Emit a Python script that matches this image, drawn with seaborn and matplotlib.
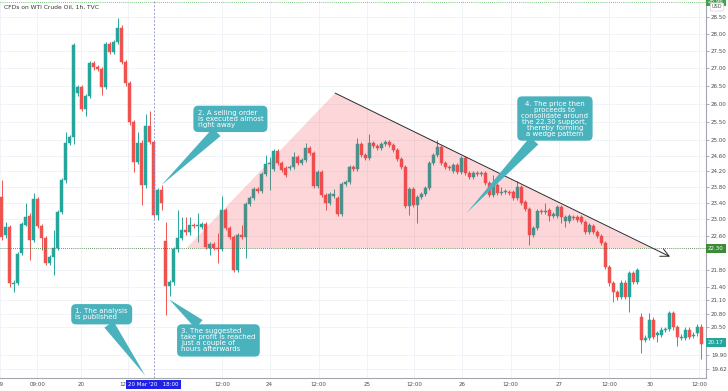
import numpy as np
import pandas as pd
import matplotlib.pyplot as plt
import matplotlib.transforms as mtransforms
from matplotlib.patches import Polygon
from matplotlib.ticker import NullLocator
import seaborn as sns

# hourly WTI candles
opens = [23.54, 22.62, 22.81, 21.47, 21.50, 22.19, 22.86, 23.08, 22.50, 23.49,
         22.83, 22.55, 21.96, 22.10, 22.31, 23.17, 23.97, 24.93, 25.09, 26.29,
         26.46, 25.85, 26.21, 27.14, 27.03, 26.97, 26.46, 27.70, 27.46, 27.76,
         28.17, 27.17, 26.57, 25.49, 24.43, 24.93, 23.84, 25.39, 24.96, 23.10,
         23.72, 22.47, 21.43, 21.52, 22.28, 22.55, 22.74, 22.69, 22.86, 22.83,
         22.81, 22.88, 22.31, 22.40, 22.31, 22.29, 23.22, 22.79, 22.57, 21.79,
         22.62, 22.57, 23.37, 23.52, 23.74, 23.69, 24.13, 24.38, 24.25, 24.72,
         24.40, 24.28, 24.28, 24.30, 24.56, 24.40, 24.48, 24.80, 24.67, 23.82,
         24.18, 23.59, 23.40, 23.57, 23.52, 23.12, 23.87, 23.92, 24.30, 24.25,
         24.91, 24.62, 24.54, 24.93, 24.86, 24.80, 24.91, 24.96, 24.88, 24.75,
         24.51, 24.30, 23.32, 23.74, 23.35, 23.54, 23.62, 23.77, 24.40, 24.62,
         24.83, 24.40, 24.30, 24.20, 24.35, 24.18, 24.54, 24.15, 24.05, 24.15,
         24.13, 24.15, 23.89, 23.59, 23.84, 23.64, 23.67, 23.67, 23.67, 23.52,
         23.79, 23.42, 23.25, 22.62, 22.79, 23.20, 23.17, 23.22, 23.08, 23.08,
         23.30, 22.95, 22.95, 23.05, 23.05, 23.05, 22.93, 22.69, 22.83, 22.69,
         22.60, 22.43, 21.86, 21.48, 21.29, 21.18, 21.50, 21.18, 21.72, 21.52,
         20.72, 20.24, 20.28, 20.67, 20.34, 20.34, 20.45, 20.47, 20.81, 20.50,
         20.28, 20.28, 20.45, 20.32, 20.37, 20.52]
highs = [23.97, 22.93, 22.86, 21.55, 22.22, 22.93, 23.40, 23.15, 23.64, 23.55,
         22.88, 22.60, 22.15, 22.74, 23.22, 24.02, 25.23, 25.15, 27.72, 26.52,
         26.52, 26.26, 27.20, 27.20, 27.08, 27.02, 27.76, 27.76, 27.82, 28.47,
         28.26, 27.22, 26.62, 25.55, 25.23, 25.00, 25.71, 25.79, 25.02, 23.78,
         23.84, 22.93, 21.57, 22.33, 23.22, 23.05, 23.05, 23.05, 22.90, 23.15,
         22.93, 22.93, 22.45, 22.45, 22.67, 23.57, 23.27, 22.84, 22.62, 22.67,
         22.86, 23.42, 23.57, 23.79, 23.79, 24.18, 24.62, 24.56, 24.78, 24.78,
         24.45, 24.33, 24.35, 24.70, 24.61, 24.53, 24.93, 24.85, 24.72, 24.23,
         24.23, 23.64, 23.67, 23.74, 23.57, 23.92, 23.97, 24.35, 24.35, 25.06,
         24.96, 24.67, 25.17, 24.98, 24.91, 24.96, 25.01, 25.01, 24.93, 24.80,
         24.56, 24.35, 23.79, 23.79, 23.59, 23.67, 23.82, 24.45, 24.67, 25.01,
         24.88, 24.45, 24.35, 24.40, 24.40, 24.60, 24.59, 24.20, 24.20, 24.20,
         24.20, 24.20, 23.94, 24.10, 23.89, 23.80, 23.74, 23.72, 23.72, 23.95,
         23.84, 23.47, 23.30, 22.84, 23.25, 23.25, 23.40, 23.27, 23.17, 23.35,
         23.35, 23.10, 23.13, 23.10, 23.10, 23.10, 22.98, 22.91, 22.88, 22.74,
         22.65, 22.48, 21.91, 21.53, 21.34, 21.55, 21.55, 21.77, 21.77, 21.84,
         20.81, 20.33, 20.81, 20.72, 20.42, 20.50, 20.52, 20.86, 20.86, 20.55,
         20.35, 20.50, 20.50, 20.40, 20.57, 20.57]
lows = [22.50, 22.55, 21.41, 21.29, 21.45, 22.15, 22.82, 22.03, 22.45, 22.78,
        22.26, 21.90, 21.90, 21.68, 22.26, 23.12, 23.90, 24.88, 24.90, 26.20,
        25.80, 25.66, 26.15, 26.95, 26.90, 26.23, 26.40, 27.40, 27.40, 27.70,
        27.12, 26.50, 25.41, 24.18, 24.38, 23.35, 23.78, 24.90, 23.02, 22.98,
        23.22, 20.78, 21.20, 21.45, 22.22, 22.50, 22.62, 22.62, 22.78, 22.45,
        22.76, 22.28, 22.14, 22.26, 21.96, 22.24, 22.74, 22.52, 21.75, 21.75,
        22.52, 22.07, 23.32, 23.47, 23.64, 23.64, 24.08, 23.72, 24.20, 24.35,
        24.18, 24.05, 24.22, 24.25, 24.35, 24.35, 24.43, 24.62, 23.77, 23.77,
        23.54, 23.22, 23.35, 23.52, 23.07, 23.07, 23.82, 23.87, 24.20, 24.20,
        24.57, 24.49, 24.49, 24.81, 24.75, 24.75, 24.86, 24.83, 24.70, 24.46,
        24.25, 23.27, 23.10, 23.30, 22.90, 23.49, 23.57, 23.72, 24.35, 24.57,
        24.35, 24.25, 24.22, 24.15, 24.13, 24.13, 24.10, 24.00, 24.00, 24.08,
        24.08, 23.84, 23.54, 23.54, 23.59, 23.59, 23.62, 23.59, 23.47, 23.47,
        23.35, 23.20, 22.38, 22.57, 22.74, 23.12, 23.12, 22.95, 23.03, 23.03,
        22.90, 22.80, 22.90, 22.98, 22.93, 22.88, 22.64, 22.64, 22.64, 22.55,
        22.38, 21.81, 21.43, 21.07, 21.10, 21.13, 21.13, 20.85, 21.47, 21.47,
        19.95, 20.19, 20.23, 20.25, 20.18, 20.29, 20.40, 20.42, 20.45, 20.10,
        20.23, 20.23, 20.25, 20.27, 20.32, 19.82]
closes = [22.57, 22.81, 21.50, 21.50, 22.17, 22.88, 23.05, 22.50, 23.49, 22.83,
          22.55, 21.96, 22.10, 22.31, 23.17, 23.97, 24.93, 25.09, 27.67, 26.46,
          25.85, 26.21, 27.14, 27.03, 26.97, 26.46, 27.70, 27.46, 27.76, 28.17,
          27.17, 26.57, 25.49, 24.43, 24.93, 23.84, 25.39, 24.96, 23.10, 23.72,
          23.40, 21.43, 21.52, 22.28, 22.55, 22.74, 22.69, 22.86, 22.83, 22.86,
          22.88, 22.33, 22.40, 22.31, 22.29, 23.22, 22.79, 22.57, 21.79, 22.62,
          22.57, 23.37, 23.52, 23.74, 23.69, 24.13, 24.38, 24.40, 24.72, 24.40,
          24.23, 24.10, 24.30, 24.56, 24.40, 24.48, 24.80, 24.67, 23.82, 24.18,
          23.59, 23.40, 23.62, 23.62, 23.12, 23.87, 23.92, 24.30, 24.25, 24.91,
          24.62, 24.54, 24.93, 24.86, 24.80, 24.91, 24.96, 24.88, 24.75, 24.51,
          24.30, 23.32, 23.74, 23.35, 23.54, 23.62, 23.77, 24.40, 24.62, 24.83,
          24.40, 24.30, 24.27, 24.35, 24.18, 24.54, 24.15, 24.05, 24.15, 24.13,
          24.15, 23.89, 23.59, 23.84, 23.64, 23.67, 23.69, 23.64, 23.52, 23.79,
          23.40, 23.25, 22.62, 22.79, 23.20, 23.17, 23.20, 23.08, 23.12, 23.30,
          23.05, 23.05, 23.08, 23.03, 22.98, 22.93, 22.69, 22.86, 22.69, 22.60,
          22.43, 21.86, 21.48, 21.29, 21.18, 21.50, 21.18, 21.72, 21.52, 21.79,
          20.24, 20.28, 20.67, 20.30, 20.37, 20.45, 20.47, 20.81, 20.50, 20.30,
          20.30, 20.45, 20.30, 20.34, 20.52, 20.14]

# time axis labels (bar index where each label sits)
x_labels = ['19', '09:00', '20', '12:00', '12:00', '24', '12:00', '25',
            '12:00', '26', '12:00', '27', '12:00', '30', '12:00']
x_label_bars = [-0.45, 8.85, 19.9, 31.5, 55.1, 67.0, 79.25, 91.35,
                103.2, 115.25, 127.35, 139.4, 151.9, 162.2, 174.4]
y_ticks = [28.50, 28.00, 27.50, 27.00, 26.50, 26.00, 25.50, 25.00, 24.60,
           24.20, 23.80, 23.40, 23.00, 22.60, 21.80, 21.40, 21.10, 20.80,
           20.50, 19.90, 19.62]

support = 22.30
last_price = 20.17
top_level = 28.96
signal_bar = 38
signal_label = "20 Mar '20   18:00"
wedge_pts = [(46.2, 22.30), (83.4, 26.29), (162.4, 22.30)]
trend_start = (83.4, 26.29)
trend_end = (167.2, 22.10)

callouts = [
    ("1. The analysis\nis published", (35.9, 19.48), (25.0, 20.79), 'left'),
    ("2. A selling order\nis executed almost\nright away", (40.0, 23.85), (57.2, 25.58), 'left'),
    ("3. The suggested\ntake profit is reached\njust a couple of\nhours afterwards", (41.9, 21.12), (54.2, 20.22), 'left'),
    ("4. The price then\nproceeds to\nconsolidate around\nthe 22.30 support,\nthereby forming\na wedge pattern", (116.3, 23.15), (138.4, 25.59), 'center'),
]

sns.set_theme(style='white')
plt.rcParams['font.family'] = ['DejaVu Sans']

df = pd.DataFrame({'open': opens, 'high': highs, 'low': lows, 'close': closes})
df['bar'] = np.arange(len(df))
df['color'] = np.where(df['close'] >= df['open'], '#26a69a', '#ef5350')

fig = plt.figure(figsize=(7.28, 3.91), dpi=100)
ax = fig.add_axes([0, 13 / 391, 706 / 728, 378 / 391])
ax.set_yscale('log')

# wicks and bodies
ax.vlines(df['bar'], df['low'], df['high'], colors=df['color'], lw=0.7, zorder=2)
body_lo = df[['open', 'close']].min(axis=1)
body_h = (df['close'] - df['open']).abs()
ax.bar(df['bar'], body_h, bottom=body_lo, width=0.68, color=df['color'],
       edgecolor=df['color'], lw=0.35, zorder=2)

# wedge area + trend line
ax.add_patch(Polygon(wedge_pts, closed=True, fc='#f23645', alpha=0.2, ec='none', zorder=3))
ax.annotate('', xy=trend_end, xytext=trend_start,
            arrowprops=dict(arrowstyle='->,head_length=0.5,head_width=0.25', color='#2a2a2a',
                            lw=0.7, shrinkA=0, shrinkB=0), zorder=4)

# horizontal price lines, signal line
ax.axhline(support, color='#3b6e35', lw=0.6, ls=(0, (1, 1.5)), zorder=3)
ax.axhline(top_level, color='#4caf50', lw=0.6, ls=(0, (1, 1.5)), zorder=3)
ax.axvline(signal_bar, color='#8f92c9', lw=0.6, ls=(0, (2.5, 2)), zorder=3)

# callouts
teal = '#49b2bd'
for text, tip, box, align in callouts:
    ax.annotate(text, xy=tip, xytext=box, ha='center', va='center', multialignment=align,
                fontsize=5, color='white', linespacing=1.0, zorder=6,
                bbox=dict(boxstyle='round,pad=0.6,rounding_size=0.7', fc=teal, ec='none'),
                arrowprops=dict(arrowstyle='wedge,tail_width=1.6', fc=teal, ec='none',
                                shrinkA=0, shrinkB=0))

ax.set_xlim(-0.325, 176.2)
ax.set_ylim(19.43, 29.02)

ax.set_xticks(x_label_bars)
ax.set_xticklabels(x_labels)
ax.tick_params(axis='x', length=0, pad=3, labelsize=4, labelcolor='#4a4a4a')
ax.yaxis.tick_right()
ax.yaxis.set_minor_locator(NullLocator())
ax.set_yticks(y_ticks)
ax.set_yticklabels([f'{v:.2f}' for v in y_ticks])
ax.tick_params(axis='y', which='major', length=2, width=0.5, color='#8a8d95', pad=1.5,
               labelsize=4, labelcolor='#4a4a4a')
ax.grid(True, which='major', color='#eef1f6', lw=0.6)
ax.set_axisbelow(True)
for side in ['left', 'top']:
    ax.spines[side].set_visible(False)
for side in ['bottom', 'right']:
    ax.spines[side].set_color('#a3a6ae')
    ax.spines[side].set_linewidth(0.8)

# right-hand price tags
ytrans = ax.get_yaxis_transform()
ax.text(1.003, support, f'{support:.2f}', transform=ytrans, ha='left', va='center',
        fontsize=4, color='white', clip_on=False, zorder=10,
        bbox=dict(boxstyle='square,pad=0.35', fc='#3d8b37', ec='none'))
ax.text(1.003, last_price, f'{last_price:.2f}', transform=ytrans, ha='left', va='center',
        fontsize=4, color='white', clip_on=False, zorder=10,
        bbox=dict(boxstyle='square,pad=0.35', fc='#26a69a', ec='none'))
ax.text(1.003, top_level, f'{top_level:.2f}', transform=ytrans, ha='left', va='center',
        fontsize=4, color='white', clip_on=False, zorder=10,
        bbox=dict(boxstyle='square,pad=0.35', fc='#43a047', ec='none'))
ax.text(717 / 706, 1 - 7 / 378, 'USD', transform=ax.transAxes, ha='center', va='center',
        fontsize=3.6, color='#555555', clip_on=False, zorder=10,
        bbox=dict(boxstyle='round,pad=0.3', fc='white', ec='#cfd2d8', lw=0.5))

# date tag under the signal bar
xtrans = mtransforms.blended_transform_factory(ax.transData, ax.transAxes)
ax.text(signal_bar, -6.5 / 378, signal_label, transform=xtrans, ha='center', va='center',
        fontsize=4, color='white', clip_on=False, zorder=10,
        bbox=dict(boxstyle='square,pad=0.4', fc='#2222e6', ec='none'))

ax.text(4 / 706, 1 - 7 / 378, 'CFDs on WTI Crude Oil, 1h, TVC', transform=ax.transAxes,
        ha='left', va='center', fontsize=4.3, color='#333333', zorder=10)

fig.savefig('out.png', dpi=100)
